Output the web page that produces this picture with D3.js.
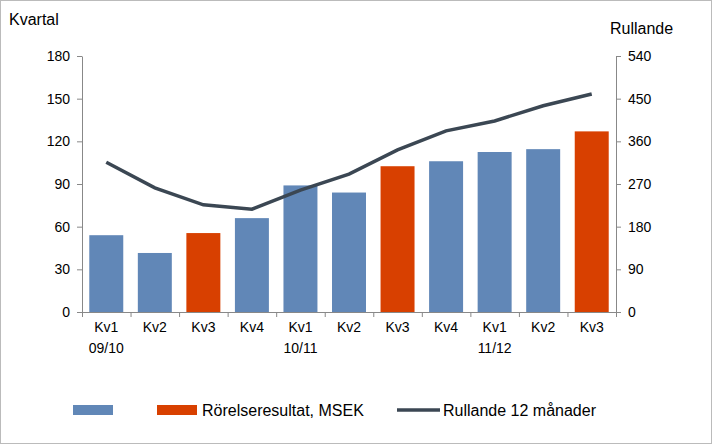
<!DOCTYPE html>
<html><head><meta charset="utf-8">
<script src="https://cdn.jsdelivr.net/npm/d3@7"></script>
<style>body{margin:0;background:#fff}text{font-family:"Liberation Sans",Arial,sans-serif}</style>
</head><body><svg id="c" width="712" height="444"></svg>
<script>
const quarters=["Kv1","Kv2","Kv3","Kv4","Kv1","Kv2","Kv3","Kv4","Kv1","Kv2","Kv3"];
const years=["09/10","","","","10/11","","","","11/12","",""];
const kvartal=[54,41.5,55.5,66,89,84,102.5,106,112.5,114.5,127];
const highlight=[false,false,true,false,false,false,true,false,false,false,true];
const rullande=[316,262,226,217,257,291,342,382,403,435,460];
const leftTicks=[0,30,60,90,120,150,180];
const rightTicks=[0,90,180,270,360,450,540];
const blue="#6187b7",orange="#d84000",lineC="#3b4753";
const svg=d3.select("#c");
svg.append("rect").attr("x",0.5).attr("y",0.5).attr("width",711).attr("height",443).attr("fill","#fff").attr("stroke","#bbb");
const L=82,R=616,T=56,B=312;
const x=d3.scaleBand().domain(d3.range(11)).range([L,R]).paddingInner(0.3).paddingOuter(0.15);
const yl=d3.scaleLinear().domain([0,180]).range([B,T]);
const yr=d3.scaleLinear().domain([0,540]).range([B,T]);
const fs="14px";
svg.selectAll(".bar").data(kvartal).join("rect").attr("x",(d,i)=>x(i)).attr("width",x.bandwidth())
 .attr("y",d=>yl(d)).attr("height",d=>B-yl(d)).attr("fill",(d,i)=>highlight[i]?orange:blue);
const ax=svg.append("g").attr("transform",`translate(${L},0)`).call(d3.axisLeft(yl).tickValues(leftTicks).tickSize(5).tickSizeOuter(0));
const ax2=svg.append("g").attr("transform",`translate(${R},0)`).call(d3.axisRight(yr).tickValues(rightTicks).tickSize(5).tickSizeOuter(0));
const axb=svg.append("g").attr("transform",`translate(0,${B})`).call(d3.axisBottom(d3.scaleLinear().domain([0,11]).range([L,R])).tickValues(d3.range(12)).tickFormat("").tickSize(5).tickSizeOuter(0));
[ax,ax2,axb].forEach(a=>{a.selectAll("path,line").attr("stroke","#888");a.selectAll("text").attr("font-size",fs).attr("fill","#000").attr("font-family","Liberation Sans")});
ax.selectAll("text").attr("dx",-4);ax2.selectAll("text").attr("dx",4);
svg.append("path").datum(rullande).attr("fill","none").attr("stroke",lineC).attr("stroke-width",3.5)
 .attr("d",d3.line().x((d,i)=>x(i)+x.bandwidth()/2).y(d=>yr(d)));
const xl=svg.append("g");
quarters.forEach((q,i)=>{const cx=x(i)+x.bandwidth()/2;
 xl.append("text").attr("x",cx).attr("y",332).attr("text-anchor","middle").attr("font-size",fs).text(q);
 if(years[i])xl.append("text").attr("x",cx).attr("y",353).attr("text-anchor","middle").attr("font-size",fs).text(years[i]);});
svg.append("text").attr("x",9).attr("y",25).attr("font-size","16px").text("Kvartal");
svg.append("text").attr("x",610).attr("y",34).attr("font-size","16px").text("Rullande");
svg.append("rect").attr("x",73).attr("y",405).attr("width",40).attr("height",10).attr("fill",blue);
svg.append("rect").attr("x",157).attr("y",405).attr("width",40).attr("height",10).attr("fill",orange);
svg.append("text").attr("x",202).attr("y",416).attr("font-size","16px").text("Rörelseresultat, MSEK");
svg.append("line").attr("x1",397).attr("x2",440).attr("y1",410).attr("y2",410).attr("stroke",lineC).attr("stroke-width",3.5);
svg.append("text").attr("x",443).attr("y",416).attr("font-size","16px").text("Rullande 12 månader");
</script></body></html>
